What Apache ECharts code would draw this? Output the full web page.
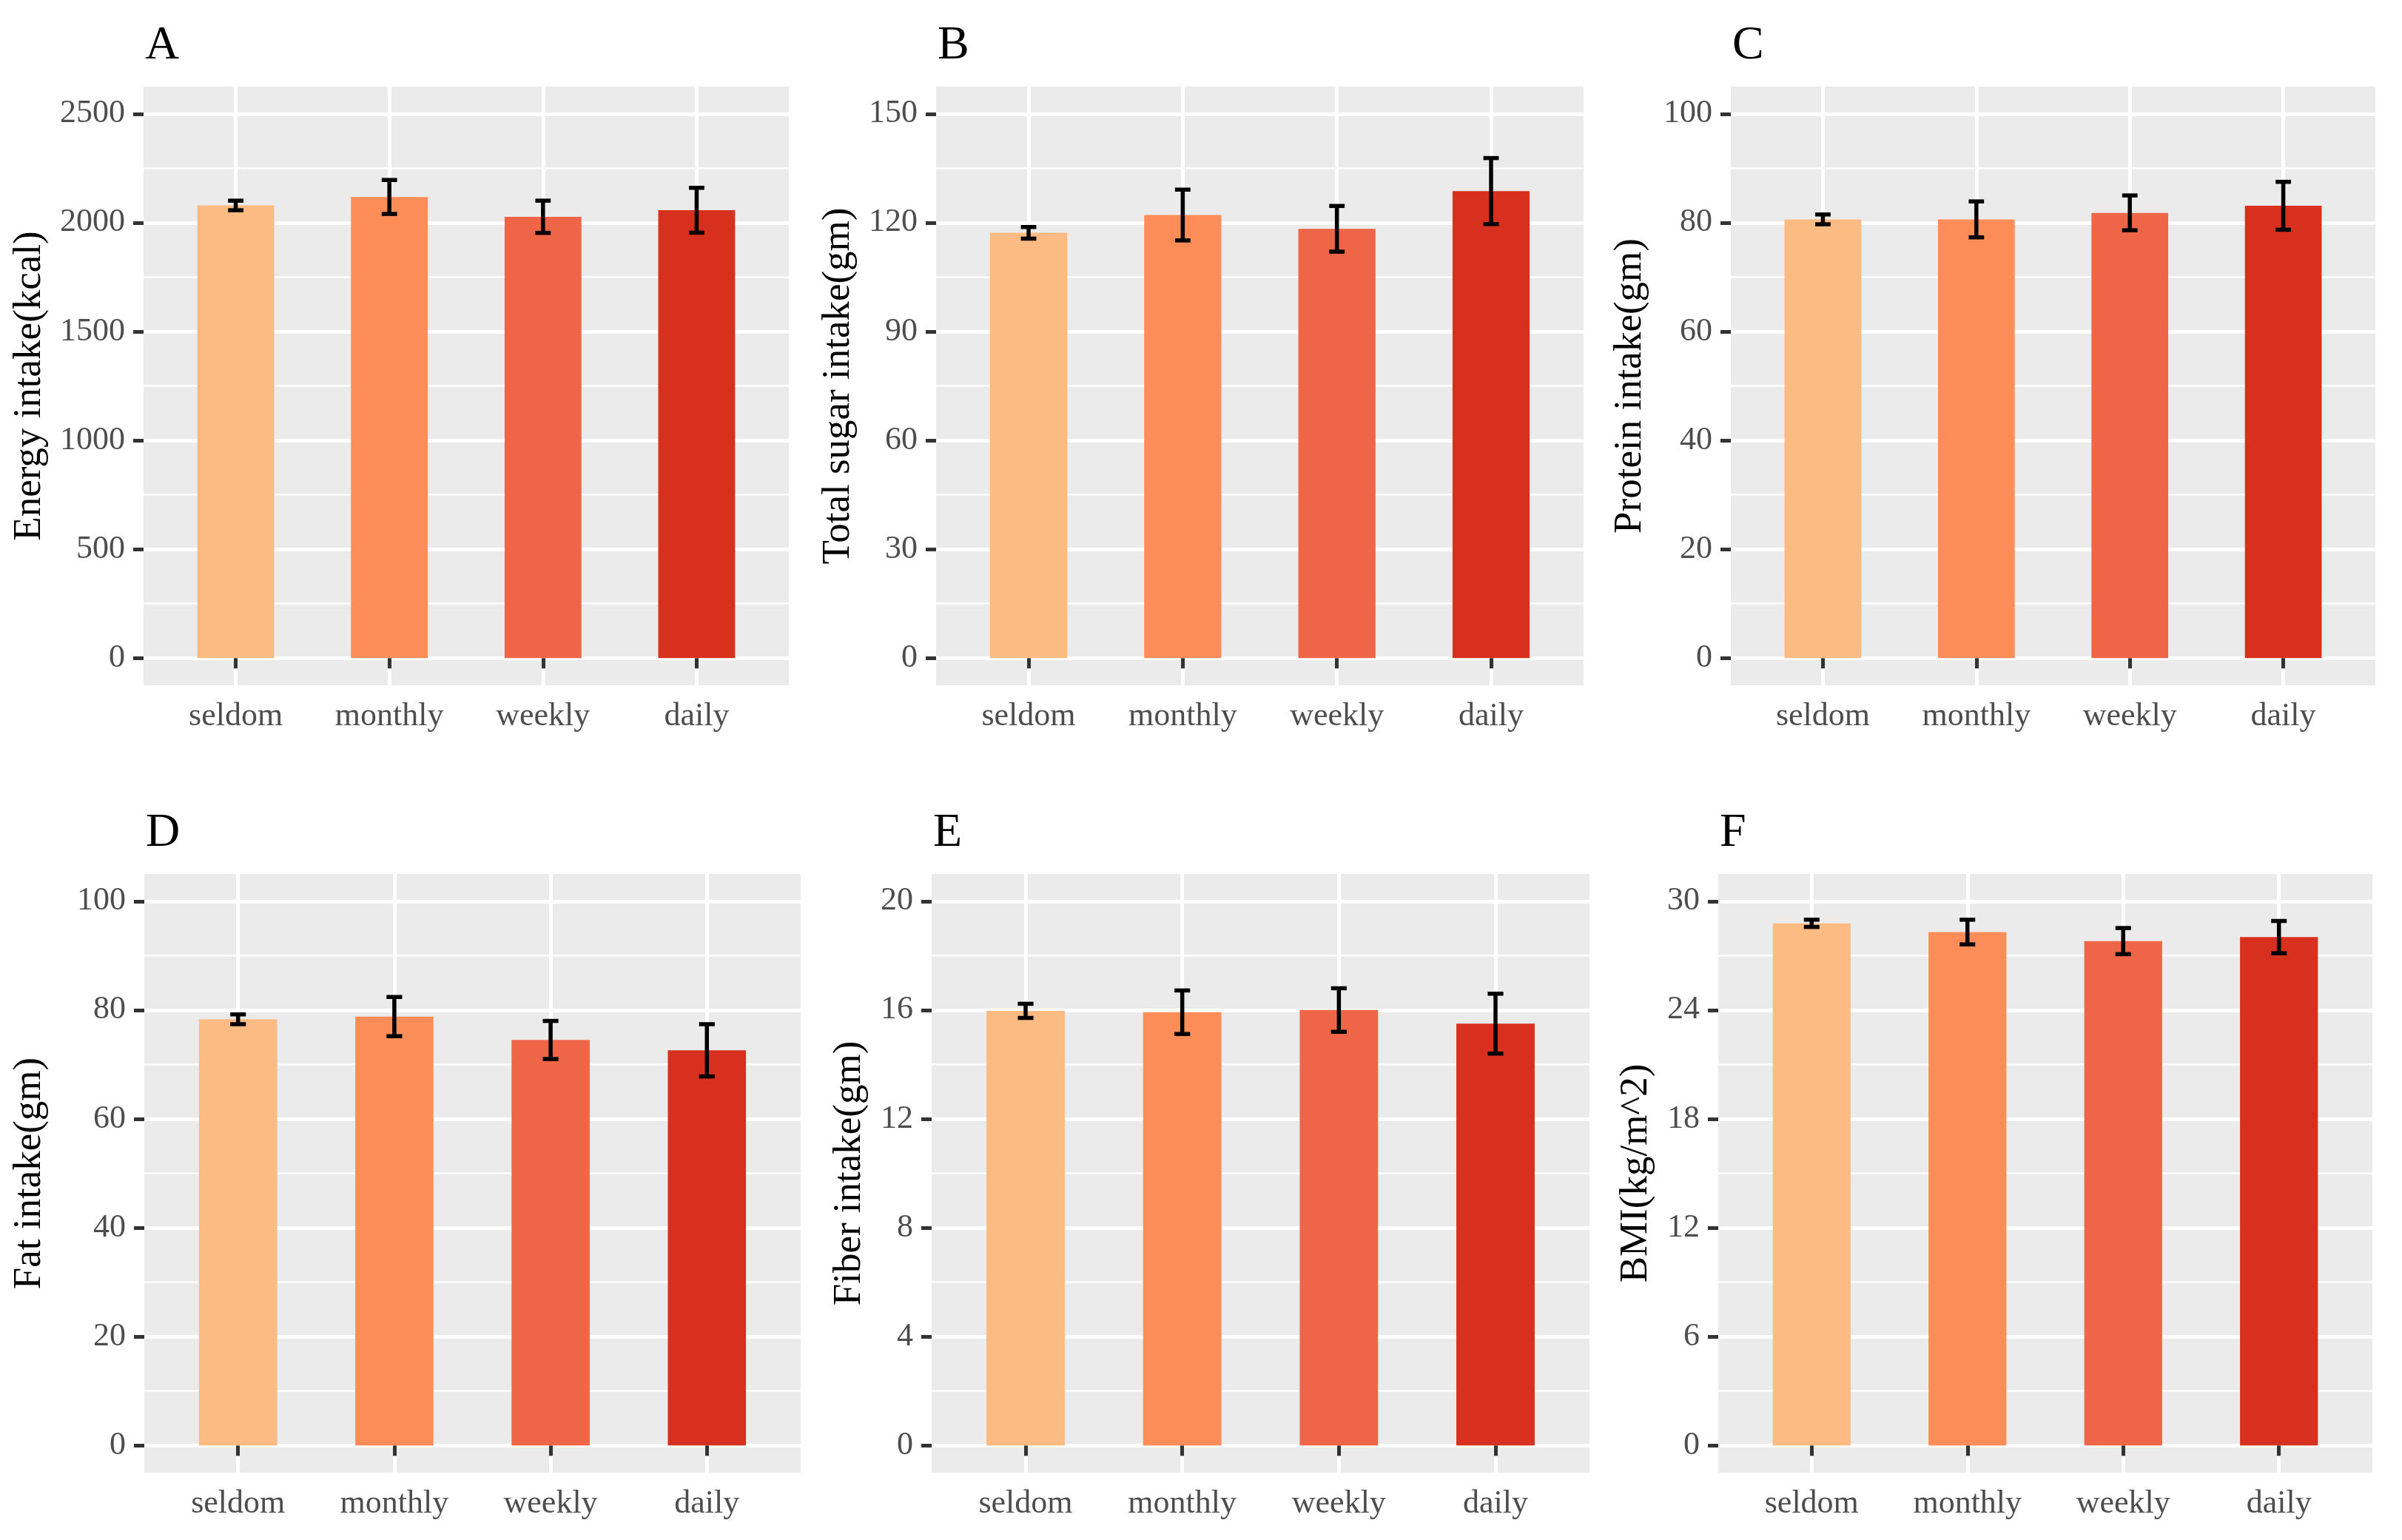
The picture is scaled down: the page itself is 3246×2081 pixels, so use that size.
<!DOCTYPE html>
<html><head><meta charset="utf-8">
<script src="https://cdn.jsdelivr.net/npm/echarts@6/dist/echarts.min.js"></script>
<style>html,body{margin:0;padding:0;background:#fff}#c{width:3246px;height:2081px}</style>
</head><body><div id="c"></div>
<script>
// ---------- data ----------
const categories = ['seldom', 'monthly', 'weekly', 'daily'];
const panelLetters = ['A', 'B', 'C', 'D', 'E', 'F'];
const yTitles = ['Energy intake(kcal)', 'Total sugar intake(gm)', 'Protein intake(gm)', 'Fat intake(gm)', 'Fiber intake(gm)', 'BMI(kg/m^2)'];

const energyMean = [2079, 2118, 2027, 2057];
const energyErr = [22, 78, 74, 103];
const sugarMean = [117.2, 122.1, 118.3, 128.7];
const sugarErr = [1.6, 7.0, 6.3, 9.1];
const proteinMean = [80.6, 80.6, 81.8, 83.1];
const proteinErr = [0.9, 3.3, 3.2, 4.4];
const fatMean = [78.3, 78.8, 74.5, 72.6];
const fatErr = [0.9, 3.6, 3.5, 4.8];
const fiberMean = [15.97, 15.92, 16.0, 15.5];
const fiberErr = [0.26, 0.8, 0.8, 1.1];
const bmiMean = [28.78, 28.3, 27.8, 28.02];
const bmiErr = [0.2, 0.68, 0.72, 0.89];

const energyTicks = [0, 500, 1000, 1500, 2000, 2500];
const sugarTicks = [0, 30, 60, 90, 120, 150];
const proteinTicks = [0, 20, 40, 60, 80, 100];
const fatTicks = [0, 20, 40, 60, 80, 100];
const fiberTicks = [0, 4, 8, 12, 16, 20];
const bmiTicks = [0, 6, 12, 18, 24, 30];

const means = [energyMean, sugarMean, proteinMean, fatMean, fiberMean, bmiMean];
const errs = [energyErr, sugarErr, proteinErr, fatErr, fiberErr, bmiErr];
const ticks = [energyTicks, sugarTicks, proteinTicks, fatTicks, fiberTicks, bmiTicks];

// ---------- styles / layout ----------
const barColors = ['#FDBB84', '#FC8D59', '#EF6548', '#D7301F'];
const layout = [
  { left: 194, top: 117, width: 872, height: 809, nameGap: 127 },
  { left: 1265, top: 117, width: 875, height: 809, nameGap: 105 },
  { left: 2339, top: 117, width: 871, height: 809, nameGap: 109 },
  { left: 195, top: 1181, width: 887, height: 809, nameGap: 128 },
  { left: 1259, top: 1181, width: 889, height: 809, nameGap: 84 },
  { left: 2322, top: 1181, width: 884, height: 809, nameGap: 84 }
];
const titleTops = [30, 30, 30, 1094, 1094, 1094];
const FONT = 'Liberation Serif';
const catPos = categories.map((c, j) => j + 1);

function renderErr(params, api) {
  const x = api.value(0), m = api.value(1), e = api.value(2);
  const hi = api.coord([x, m + e]);
  const lo = api.coord([x, m - e]);
  const hw = api.size([0.1, 0])[0] / 2;
  const style = { stroke: '#000', lineWidth: 5.5 };
  return {
    type: 'group',
    children: [
      { type: 'line', shape: { x1: hi[0], y1: hi[1], x2: lo[0], y2: lo[1] }, style: style },
      { type: 'line', shape: { x1: hi[0] - hw, y1: hi[1], x2: hi[0] + hw, y2: hi[1] }, style: style },
      { type: 'line', shape: { x1: lo[0] - hw, y1: lo[1], x2: lo[0] + hw, y2: lo[1] }, style: style }
    ]
  };
}

const grid = [], xAxis = [], yAxis = [], series = [], title = [];
for (let i = 0; i < 6; i++) {
  const L = layout[i];
  const tk = ticks[i];
  const top = tk[tk.length - 1];
  const minor = [];
  for (let k = 0; k < tk.length - 1; k++) minor.push((tk[k] + tk[k + 1]) / 2);
  grid.push({ left: L.left, top: L.top, width: L.width, height: L.height, show: true, backgroundColor: '#EBEBEB', borderWidth: 0 });
  title.push({
    text: panelLetters[i], left: L.left + 2, top: titleTops[i], padding: 0,
    textStyle: { fontFamily: FONT, fontSize: 64, fontWeight: 'normal', color: '#000', lineHeight: 64 }
  });
  xAxis.push({
    type: 'value', gridIndex: i, min: 0.4, max: 4.6,
    axisLine: { show: false },
    axisTick: { show: true, length: 14, lineStyle: { color: '#333333', width: 5 }, customValues: catPos },
    axisLabel: { customValues: catPos, formatter: v => categories[Math.round(v) - 1], fontFamily: FONT, fontSize: 44, lineHeight: 44, color: '#4D4D4D', margin: 20 },
    splitLine: { show: true, lineStyle: { color: '#FFFFFF', width: 5 } }
  });
  yAxis.push({
    type: 'value', gridIndex: i, min: -0.05 * top, max: 1.05 * top,
    name: yTitles[i], nameLocation: 'middle', nameGap: L.nameGap, nameRotate: 90,
    nameTextStyle: { fontFamily: FONT, fontSize: 53, color: '#000', lineHeight: 53 },
    axisLine: { show: false },
    axisTick: { show: true, length: 14, lineStyle: { color: '#333333', width: 5 }, customValues: tk },
    axisLabel: { customValues: tk, formatter: v => String(v), fontFamily: FONT, fontSize: 44, lineHeight: 44, color: '#4D4D4D', margin: 25 },
    splitLine: { show: true, lineStyle: { color: '#FFFFFF', width: 5 } }
  });
  yAxis.push({
    type: 'value', gridIndex: i, min: -0.05 * top, max: 1.05 * top,
    axisLine: { show: false },
    axisTick: { show: false, customValues: minor },
    axisLabel: { show: false, customValues: minor },
    splitLine: { show: true, lineStyle: { color: '#FFFFFF', width: 2.5 } }
  });
  series.push({
    type: 'bar', xAxisIndex: i, yAxisIndex: 2 * i, barWidth: '50%',
    data: categories.map((c, j) => ({ value: [j + 1, means[i][j]], itemStyle: { color: barColors[j] } })),
    silent: true, z: 2
  });
  series.push({
    type: 'custom', xAxisIndex: i, yAxisIndex: 2 * i, renderItem: renderErr,
    encode: { x: 0, y: 1 },
    data: categories.map((c, j) => [j + 1, means[i][j], errs[i][j]]),
    silent: true, z: 3
  });
}

const chart = echarts.init(document.getElementById('c'), null, { renderer: 'canvas' });
chart.setOption({ animation: false, backgroundColor: '#FFFFFF', title, grid, xAxis, yAxis, series });
</script>
</body></html>
